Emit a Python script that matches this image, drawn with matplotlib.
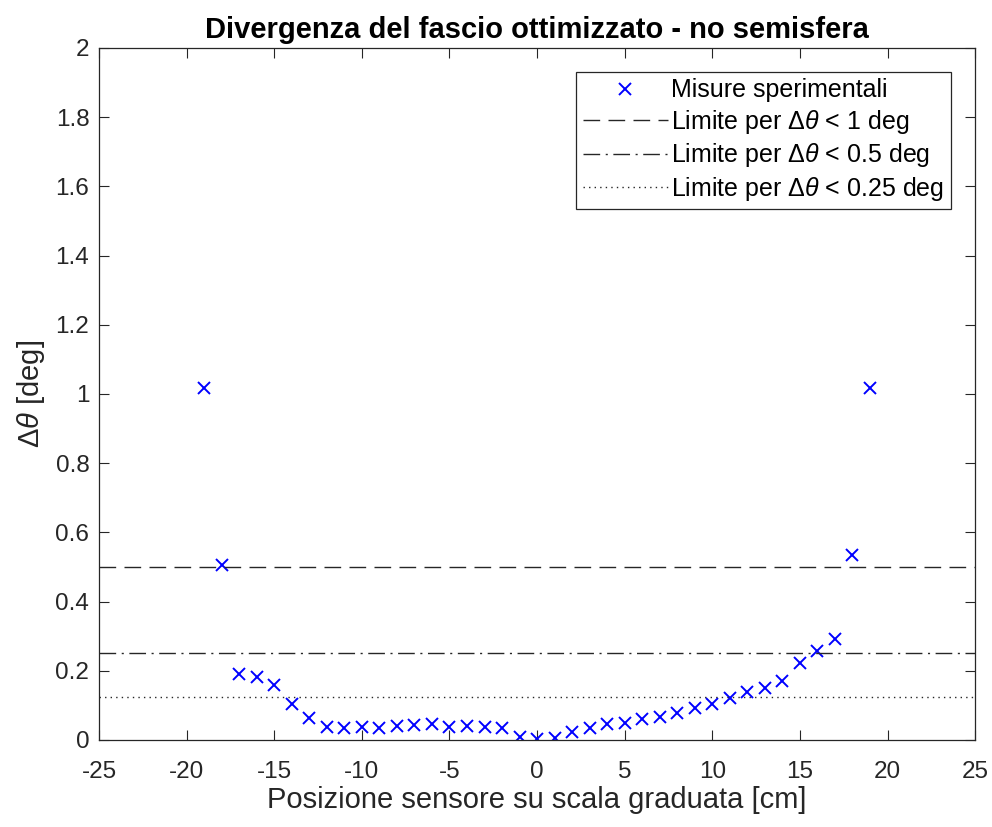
import numpy as np
import matplotlib
matplotlib.use('Agg')
import matplotlib.pyplot as plt
from matplotlib.ticker import FuncFormatter

plt.rcParams['font.family'] = ['Liberation Sans', 'DejaVu Sans']
plt.rcParams['mathtext.fontset'] = 'custom'
plt.rcParams['mathtext.rm'] = 'Liberation Sans'
plt.rcParams['mathtext.it'] = 'Liberation Sans:italic'
plt.rcParams['axes.unicode_minus'] = False

###DATA###
pos = np.arange(-19, 20)
dtheta = [1.016, 0.507, 0.190, 0.181, 0.158, 0.103, 0.063, 0.037, 0.036, 0.038,
          0.034, 0.040, 0.043, 0.045, 0.038, 0.040, 0.038, 0.034, 0.008, 0.003,
          0.007, 0.022, 0.034, 0.045, 0.050, 0.060, 0.067, 0.079, 0.092, 0.104,
          0.122, 0.138, 0.149, 0.171, 0.222, 0.258, 0.291, 0.536, 1.018]
lim_1 = 0.5
lim_05 = 0.25
lim_025 = 0.125

###PLOT###
fig = plt.figure(figsize=(9.92, 8.27), dpi=100)
ax = fig.add_axes([0.0998, 0.1052, 0.8832, 0.8368])

ax.plot(pos, dtheta, 'x', color='#0000ff', markersize=9, markeredgewidth=1.4,
        label='Misure sperimentali')
ax.axhline(lim_1, color='#262626', lw=1.0, ls=(0, (12, 6)), label=r'Limite per $\Delta\theta$ < 1 deg')
ax.axhline(lim_05, color='#262626', lw=1.0, ls=(0, (12, 4, 1.5, 4)), label=r'Limite per $\Delta\theta$ < 0.5 deg')
ax.axhline(lim_025, color='#262626', lw=1.0, ls=(0, (1, 3)), label=r'Limite per $\Delta\theta$ < 0.25 deg')

ax.set_xlim(-25, 25)
ax.set_ylim(0, 2)
ax.set_xticks(np.arange(-25, 26, 5))
ax.set_yticks(np.arange(0, 2.01, 0.2))
ax.yaxis.set_major_formatter(FuncFormatter(lambda v, p: '%g' % round(v, 2)))
ax.tick_params(direction='in', length=7, labelsize=17.5, color='#262626',
               labelcolor='#262626', top=True, right=True, pad=7)
ax.tick_params(axis='x', pad=15)
for s in ax.spines.values():
    s.set_color('#262626')
    s.set_linewidth(0.9)

ax.set_title('Divergenza del fascio ottimizzato - no semisfera', fontsize=21,
             fontweight='bold', pad=7)
ax.set_xlabel('Posizione sensore su scala graduata [cm]', fontsize=21, color='#262626', labelpad=2)
ax.set_ylabel(r'$\Delta\theta$ [deg]', fontsize=21, color='#262626', labelpad=6)

leg = ax.legend(loc='upper right', fontsize=18, fancybox=False, framealpha=1,
                edgecolor='#262626', handlelength=3.4, borderpad=0.25,
                labelspacing=0.22, handletextpad=0.15, borderaxespad=0,
                bbox_to_anchor=(0.972, 0.965))
leg.get_frame().set_linewidth(0.9)

fig.savefig('out.png', dpi=100)
